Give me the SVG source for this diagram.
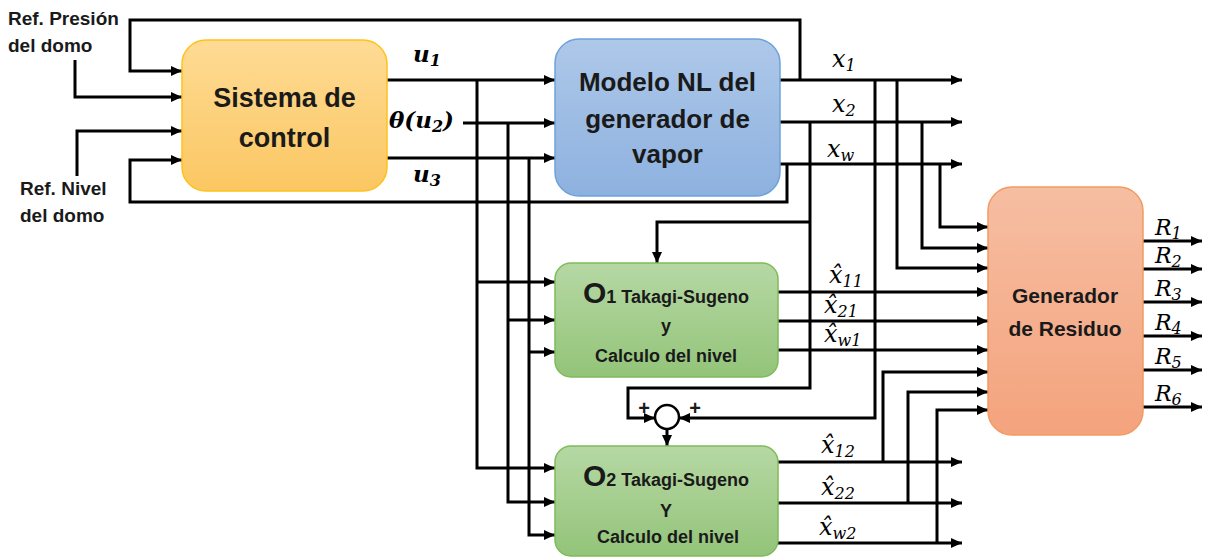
<svg xmlns="http://www.w3.org/2000/svg" width="1207" height="557" viewBox="0 0 1207 557">
<style>
.ln{fill:none;stroke:#000;stroke-width:3;stroke-linejoin:miter}
.ar{marker-end:url(#arr)}
.lbl{font-family:"Liberation Sans",Arial,sans-serif;font-weight:bold;fill:#1a1a1a}
.m{font-family:"DejaVu Serif","Liberation Serif",serif;font-style:italic;fill:#000}
.mb{font-weight:bold}
.sub{font-size:16px}
</style>
<defs>
<marker id="arr" markerUnits="userSpaceOnUse" markerWidth="12" markerHeight="10" refX="11" refY="5" orient="auto">
<path d="M0,0 L11,5 L0,10 z" fill="#000"/>
</marker>
<linearGradient id="gY" x1="0" y1="0" x2="0" y2="1"><stop offset="0" stop-color="#fedb95"/><stop offset="1" stop-color="#fbc762"/></linearGradient>
<linearGradient id="gB" x1="0" y1="0" x2="0" y2="1"><stop offset="0" stop-color="#aec8e9"/><stop offset="1" stop-color="#8db1df"/></linearGradient>
<linearGradient id="gG" x1="0" y1="0" x2="0" y2="1"><stop offset="0" stop-color="#b6d8a4"/><stop offset="1" stop-color="#93c479"/></linearGradient>
<linearGradient id="gO" x1="0" y1="0" x2="0" y2="1"><stop offset="0" stop-color="#f6bea2"/><stop offset="1" stop-color="#f4a37d"/></linearGradient>
</defs>
<rect width="1207" height="557" fill="#fff"/>

<g id="connectors">
<path class="ln ar" d="M75,60 V97 H182"/>
<path class="ln ar" d="M77,176 V131 H182"/>
<path class="ln ar" d="M800,80 V20 H130 V71 H182"/>
<path class="ln ar" d="M787,164 V202 H130 V160 H182"/>
<path class="ln ar" d="M387,80 H555"/>
<path class="ln ar" d="M463,123 H555"/>
<path class="ln ar" d="M387,158 H555"/>
<path class="ln ar" d="M477,80 V468 H555"/>
<path class="ln ar" d="M477,282 H555"/>
<path class="ln ar" d="M508,123 V502 H555"/>
<path class="ln ar" d="M508,320 H555"/>
<path class="ln ar" d="M529,158 V535 H555"/>
<path class="ln ar" d="M529,352 H555"/>
<path class="ln ar" d="M780,80 H962"/>
<path class="ln ar" d="M780,122 H962"/>
<path class="ln ar" d="M780,164 H962"/>
<path class="ln ar" d="M810,122 V388 H628 V418 H655"/>
<path class="ln ar" d="M810,222 H657 V263"/>
<path class="ln ar" d="M875,80 V418 H679"/>
<path class="ln ar" d="M897,80 V268 H988"/>
<path class="ln ar" d="M922,122 V248 H988"/>
<path class="ln ar" d="M940,164 V227 H988"/>
<path class="ln ar" d="M778,292 H988"/>
<path class="ln ar" d="M778,321 H988"/>
<path class="ln ar" d="M778,350 H988"/>
<path class="ln ar" d="M778,462 H962"/>
<path class="ln ar" d="M778,503 H962"/>
<path class="ln ar" d="M778,543 H962"/>
<path class="ln ar" d="M883,462 V372 H988"/>
<path class="ln ar" d="M908,503 V392 H988"/>
<path class="ln ar" d="M937,543 V410 H988"/>
<path class="ln ar" d="M667,429 V446"/>
<path class="ln ar" d="M1143,241 H1202"/>
<path class="ln ar" d="M1143,269 H1202"/>
<path class="ln ar" d="M1143,302 H1202"/>
<path class="ln ar" d="M1143,336 H1202"/>
<path class="ln ar" d="M1143,370 H1202"/>
<path class="ln ar" d="M1143,407 H1202"/>
</g>

<g id="sum">
<circle cx="667" cy="417" r="12" fill="#fff" stroke="#000" stroke-width="2.5"/>
<text class="lbl" x="644" y="415" font-size="20" text-anchor="middle">+</text>
<text class="lbl" x="695" y="415" font-size="20" text-anchor="middle">+</text>
</g>

<g id="sistema">
<rect x="182" y="40" width="205" height="151" rx="24" fill="url(#gY)" stroke="#ffc21a" stroke-width="1.5"/>
<text class="lbl" x="284.5" y="107" font-size="27" text-anchor="middle">Sistema de</text>
<text class="lbl" x="284.5" y="147" font-size="27" text-anchor="middle">control</text>
</g>

<g id="modelo">
<rect x="555" y="39" width="225" height="157" rx="24" fill="url(#gB)" stroke="#6ea3d8" stroke-width="1.5"/>
<text class="lbl" x="667.5" y="91" font-size="26" text-anchor="middle">Modelo NL del</text>
<text class="lbl" x="667.5" y="128" font-size="26" text-anchor="middle">generador de</text>
<text class="lbl" x="667.5" y="163" font-size="26" text-anchor="middle">vapor</text>
</g>

<g id="o1">
<rect x="555" y="263" width="223" height="114" rx="16" fill="url(#gG)" stroke="#7fbb5a" stroke-width="1.5"/>
<text class="lbl" x="666" y="303" font-size="18" text-anchor="middle"><tspan font-size="30">O</tspan>1 Takagi-Sugeno</text>
<text class="lbl" x="666" y="332" font-size="18" text-anchor="middle">y</text>
<text class="lbl" x="666" y="362" font-size="18" text-anchor="middle">Calculo del nivel</text>
</g>

<g id="o2">
<rect x="555" y="446" width="223" height="110" rx="16" fill="url(#gG)" stroke="#7fbb5a" stroke-width="1.5"/>
<text class="lbl" x="666" y="486" font-size="18" text-anchor="middle"><tspan font-size="30">O</tspan>2 Takagi-Sugeno</text>
<text class="lbl" x="666" y="517" font-size="18" text-anchor="middle">Y</text>
<text class="lbl" x="668" y="543" font-size="18" text-anchor="middle">Calculo del nivel</text>
</g>

<g id="residuo">
<rect x="988" y="187" width="155" height="248" rx="24" fill="url(#gO)" stroke="#f29a62" stroke-width="1.5"/>
<text class="lbl" x="1065" y="303" font-size="21" text-anchor="middle">Generador</text>
<text class="lbl" x="1065" y="336" font-size="21" text-anchor="middle">de Residuo</text>
</g>

<g id="labels">
<text class="lbl" x="8" y="25" font-size="19">Ref. Presión</text>
<text class="lbl" x="8" y="52" font-size="19">del domo</text>
<text class="lbl" x="20" y="195" font-size="19">Ref. Nivel</text>
<text class="lbl" x="20" y="222" font-size="19">del domo</text>

<text class="m mb" x="413" y="62" font-size="23">u<tspan class="sub" dy="4">1</tspan></text>
<text class="m mb" x="389" y="128" font-size="23">θ(u<tspan class="sub" dy="4">2</tspan><tspan dy="-4">)</tspan></text>
<text class="m mb" x="413" y="182" font-size="23">u<tspan class="sub" dy="4">3</tspan></text>

<text class="m" x="832" y="67" font-size="24">x<tspan class="sub" dy="4">1</tspan></text>
<text class="m" x="832" y="112" font-size="24">x<tspan class="sub" dy="4">2</tspan></text>
<text class="m" x="827" y="157" font-size="24">x<tspan class="sub" dy="4">w</tspan></text>

<text class="m" x="829" y="283" font-size="24">x̂<tspan class="sub" dy="4">11</tspan></text>
<text class="m" x="824" y="313" font-size="24">x̂<tspan class="sub" dy="4">21</tspan></text>
<text class="m" x="824" y="342" font-size="24">x̂<tspan class="sub" dy="4">w1</tspan></text>
<text class="m" x="821" y="453" font-size="24">x̂<tspan class="sub" dy="4">12</tspan></text>
<text class="m" x="821" y="495" font-size="24">x̂<tspan class="sub" dy="4">22</tspan></text>
<text class="m" x="819" y="535" font-size="24">x̂<tspan class="sub" dy="4">w2</tspan></text>

<text class="m" x="1155" y="235" font-size="22">R<tspan class="sub" dy="4">1</tspan></text>
<text class="m" x="1155" y="263" font-size="22">R<tspan class="sub" dy="4">2</tspan></text>
<text class="m" x="1155" y="296" font-size="22">R<tspan class="sub" dy="4">3</tspan></text>
<text class="m" x="1155" y="330" font-size="22">R<tspan class="sub" dy="4">4</tspan></text>
<text class="m" x="1155" y="364" font-size="22">R<tspan class="sub" dy="4">5</tspan></text>
<text class="m" x="1155" y="401" font-size="22">R<tspan class="sub" dy="4">6</tspan></text>
</g>
</svg>
